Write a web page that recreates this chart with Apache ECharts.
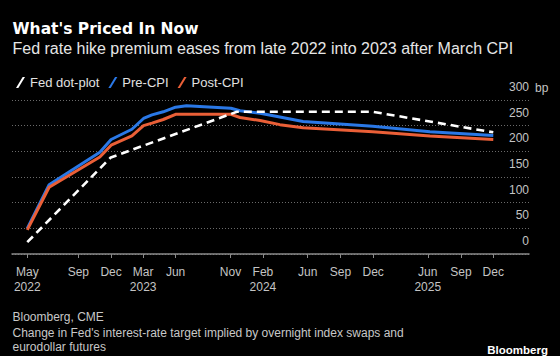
<!DOCTYPE html>
<html><head><meta charset="utf-8">
<script src="https://cdn.jsdelivr.net/npm/echarts@6/dist/echarts.min.js"></script>
<style>html,body{margin:0;padding:0;background:#000;}#c{width:560px;height:356px;}</style>
</head><body><div id="c"></div>
<script>
// Market-implied change in Fed target (bp)
const pointDates = ['2022-05-04','2022-07-05','2022-11-26','2022-12-28','2023-02-25','2023-03-30','2023-04-23','2023-05-25','2023-06-29','2023-07-30','2023-12-03','2023-12-29','2024-02-24','2024-04-20','2024-06-25','2025-01-09','2025-06-20','2025-12-17'];
const preCPI  = [50,135,198,223,243,264,271,277,286,289,284,279,274,267,258,249,238,231];
const postCPI = [47,130,189,212,230,250,255,262,272,272,272,266,260,252,246,238,230,223];
// Fed dot-plot path
const dotPlotDates = ['2022-05-04','2022-12-27','2023-12-20','2025-01-09','2025-12-17'];
const dotPlot = [23,188,277,277,237];
// x-axis ticks
const tickDates  = ['2022-05-04','2022-09-26','2022-12-28','2023-03-29','2023-06-29','2023-12-02','2024-03-03','2024-07-08','2024-10-09','2025-01-10','2025-06-14','2025-09-16','2025-12-17'];
const tickLabels = ['May\n2022','Sep','Dec','Mar\n2023','Jun','Nov','Feb\n2024','Jun','Sep','Dec','Jun\n2025','Sep','Dec'];
const yMin = 0, yMax = 300, yStep = 50;

const BLUE = '#2a78e6', RED = '#ea5f37', WHITE = '#ffffff';
const FONT = '"Liberation Sans", Arial, sans-serif';
const DAY = 864e5;
function localTs(s){ const p = s.split('-'); return new Date(+p[0], +p[1]-1, +p[2]).getTime(); }
const tickTs = tickDates.map(localTs);
function tickLabel(v){
  let best = 0, bd = Infinity;
  tickTs.forEach((t,i)=>{ const d = Math.abs(t - v); if (d < bd){ bd = d; best = i; } });
  return tickLabels[best];
}

const chart = echarts.init(document.getElementById('c'), null, {renderer:'svg', width:560, height:356});
const slash = 'path://M0,12 L2.6,12 L10,0 L7.4,0 Z';
chart.setOption({
  animation: false,
  backgroundColor: '#000',
  grid: {left: 12, right: 31, top: 100, bottom: 102, containLabel: false},
  legend: {
    data: ['Fed dot-plot','Pre-CPI','Post-CPI'],
    left: 11, top: 71, icon: slash, itemWidth: 9, itemHeight: 12, itemGap: 9,
    textStyle: {color: '#e2e2e2', fontFamily: FONT, fontSize: 13},
    itemStyle: {borderWidth: 0}
  },
  xAxis: {
    type: 'value', scale: true,
    min: v => v.min - 43.4 * DAY,
    max: v => v.max + 101.4 * DAY,
    axisLine: {show: true, onZero: false, lineStyle: {color: '#8a8a8a', width: 1.5}},
    axisTick: {show: true, length: 4, inside: false, customValues: tickTs, lineStyle: {color: '#8a8a8a', width: 1}},
    axisLabel: {customValues: tickTs, formatter: v => tickLabel(v), color: '#c4c4c4', fontFamily: FONT, fontSize: 12, lineHeight: 15.5, margin: 10, hideOverlap: false},
    splitLine: {show: false}
  },
  yAxis: {
    type: 'value', position: 'right', min: yMin, max: yMax, interval: yStep,
    name: 'bp', nameLocation: 'end', nameGap: 12,
    nameTextStyle: {color: '#c4c4c4', fontFamily: FONT, fontSize: 12, align: 'left', verticalAlign: 'middle', padding: [0,0,0,6]},
    axisLine: {show: false}, axisTick: {show: false},
    axisLabel: {inside: true, margin: 0, color: '#c4c4c4', fontFamily: FONT, fontSize: 12, verticalAlign: 'bottom', lineHeight: 14, padding: [0,0,6,0]},
    splitLine: {show: true, lineStyle: {color: '#6a6a6a', width: 1, type: [1,2]}}
  },
  series: [
    {name: 'Pre-CPI', type: 'line', color: BLUE, showSymbol: false, symbol: 'none',
     data: pointDates.map((d,i)=>[localTs(d), preCPI[i]]), lineStyle: {color: BLUE, width: 3}, z: 2},
    {name: 'Post-CPI', type: 'line', color: RED, showSymbol: false, symbol: 'none',
     data: pointDates.map((d,i)=>[localTs(d), postCPI[i]]), lineStyle: {color: RED, width: 3}, z: 3},
    {name: 'Fed dot-plot', type: 'line', color: WHITE, showSymbol: false, symbol: 'none',
     data: dotPlotDates.map((d,i)=>[localTs(d), dotPlot[i]]), lineStyle: {color: WHITE, width: 2.6, type: [8,5]}, z: 4}
  ],
  graphic: [
    {type: 'text', style: {x: 12.5, y: 29, text: "What's Priced In Now", fill: '#ffffff', font: 'bold 15.5px "DejaVu Sans", sans-serif', verticalAlign: 'middle'}},
    {type: 'text', style: {x: 12.5, y: 48.5, text: 'Fed rate hike premium eases from late 2022 into 2023 after March CPI', fill: '#e6e6e6', font: '16px ' + FONT, verticalAlign: 'middle'}},
    {type: 'text', style: {x: 12.5, y: 317, text: 'Bloomberg, CME', fill: '#c8c8c8', font: '12px ' + FONT, verticalAlign: 'middle'}},
    {type: 'text', style: {x: 12.5, y: 333, text: "Change in Fed's interest-rate target implied by overnight index swaps and", fill: '#c8c8c8', font: '12px ' + FONT, verticalAlign: 'middle'}},
    {type: 'text', style: {x: 12.5, y: 347, text: 'eurodollar futures', fill: '#c8c8c8', font: '12px ' + FONT, verticalAlign: 'middle'}},
    {type: 'text', style: {x: 548, y: 350, text: 'Bloomberg', fill: '#ffffff', font: 'bold 11.5px ' + FONT, align: 'right', verticalAlign: 'middle'}}
  ]
});
</script></body></html>
